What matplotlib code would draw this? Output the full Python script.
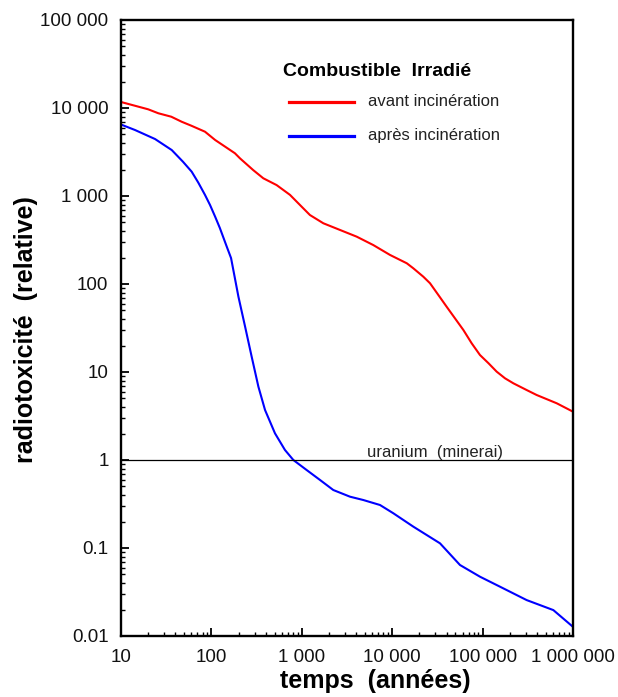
import matplotlib
matplotlib.use("Agg")
import matplotlib.pyplot as plt
from matplotlib.ticker import LogLocator, NullFormatter

# Radiotoxicity of irradiated fuel vs. time (relative units)
years_avant = [10, 14.3, 20, 25.9, 36, 46.9, 60, 84.9, 110, 141, 182, 207, 290, 375,
               527, 740, 955, 1230, 1730, 2650, 4050, 6180, 9450, 14500, 17100,
               22100, 26200, 32400, 40100, 49500, 61300, 75700, 93500, 116000,
               143000, 177000, 219000, 307000, 396000, 661000, 1000000]
tox_avant = [11700, 10600, 9660, 8710, 7960, 6980, 6290, 5380, 4330, 3650, 3060, 2680,
             1970, 1590, 1330, 1030, 790, 608, 490, 411, 345, 277, 214, 172, 151,
             121, 102, 75, 55, 40.7, 30, 21.2, 15.6, 12.6,
             10.1, 8.48, 7.44, 6.24, 5.48, 4.41, 3.54]

years_apres = [10, 14.3, 23.8, 36.4, 48.5, 60.5, 71.6, 84.9, 96.6, 110, 124, 148,
               165, 199, 236, 279, 331, 392, 505, 651, 806, 1130, 1590, 2230, 3410,
               4790, 7330, 10300, 17100, 33800, 56200, 93500, 156000, 307000, 606000,
               1000000]
tox_apres = [6490, 5620, 4440, 3330, 2450, 1890, 1420, 1030, 790, 582, 433, 265,
             197, 71.8, 32.7, 14.9, 6.81, 3.70, 2.01, 1.30, 1.0, 0.77, 0.593, 0.456,
             0.383, 0.351, 0.308, 0.248, 0.175, 0.113, 0.0641, 0.0472, 0.0363, 0.0256,
             0.0197, 0.0127]

uranium_level = 1.0
uranium_label_x = 5260

x_ticks = [10, 100, 1000, 10000, 100000, 1000000]
x_tick_labels = ["10", "100", "1 000", "10 000", "100 000", "1 000 000"]
y_ticks = [0.01, 0.1, 1, 10, 100, 1000, 10000, 100000]
y_tick_labels = ["0.01", "0.1", "1", "10", "100", "1 000", "10 000", "100 000"]

series_names = ["avant incinération", "après incinération"]
series_colors = ["#ff0000", "#0000ff"]

W, H = 618, 697
fig = plt.figure(figsize=(W / 100, H / 100), dpi=100)
fig.patch.set_facecolor("white")

# axes box in pixels: x 121..573, y 20..636
ax = fig.add_axes([121 / W, 1 - 636 / H, 452 / W, 616 / H])
ax.set_xscale("log")
ax.set_yscale("log")
ax.set_xlim(10, 1e6)
ax.set_ylim(0.01, 1e5)

ax.plot(years_avant, tox_avant, color=series_colors[0], lw=1.5,
        solid_joinstyle="round")
ax.plot(years_apres, tox_apres, color=series_colors[1], lw=1.5,
        solid_joinstyle="round")
ax.axhline(uranium_level, color="black", lw=0.9)

sans = "Liberation Sans"

ax.set_xticks(x_ticks)
ax.set_xticklabels(x_tick_labels)
ax.set_yticks(y_ticks)
ax.set_yticklabels(y_tick_labels)
ax.xaxis.set_minor_locator(LogLocator(base=10, subs=range(2, 10), numticks=20))
ax.yaxis.set_minor_locator(LogLocator(base=10, subs=range(2, 10), numticks=20))
ax.xaxis.set_minor_formatter(NullFormatter())
ax.yaxis.set_minor_formatter(NullFormatter())

ax.tick_params(which="major", direction="in", length=6, width=1.3,
               top=False, right=False, labelsize=13.5)
ax.tick_params(which="minor", direction="in", length=3, width=1.0,
               top=False, right=False)
ax.tick_params(axis="x", which="major", pad=9)
ax.tick_params(axis="y", which="major", pad=9)
for lab in ax.get_xticklabels() + ax.get_yticklabels():
    lab.set_fontfamily(sans)
    lab.set_color("#111111")

for sp in ax.spines.values():
    sp.set_linewidth(1.7)
    sp.set_color("black")

# uranium reference label, just above the line
ax.text(uranium_label_x, uranium_level * 1.09, "uranium  (minerai)",
        fontsize=12, family=sans, color="#222222", va="baseline", ha="left")

# legend block
fig.text(283 / W, 1 - 71 / H, "Combustible  Irradié", fontsize=14, fontweight="bold",
         family=sans, ha="left", va="center", color="black")
for i, (name, col) in enumerate(zip(series_names, series_colors)):
    yy = 1 - (101.5 + 34 * i) / H
    fig.add_artist(plt.Line2D([289 / W, 354 / W], [yy, yy], color=col, lw=2.3))
    fig.text(368 / W, yy, name, fontsize=12, family=sans, ha="left", va="center",
             color="#222222")

# axis titles
fig.text(375 / W, 1 - 681 / H, "temps  (années)", fontsize=18, fontweight="bold",
         family=sans, ha="center", va="center")
fig.text(26 / W, 1 - 330 / H, "radiotoxicité  (relative)", fontsize=18, fontweight="bold",
         family=sans, ha="center", va="center", rotation=90)

fig.savefig("out.png", dpi=100, facecolor="white")
